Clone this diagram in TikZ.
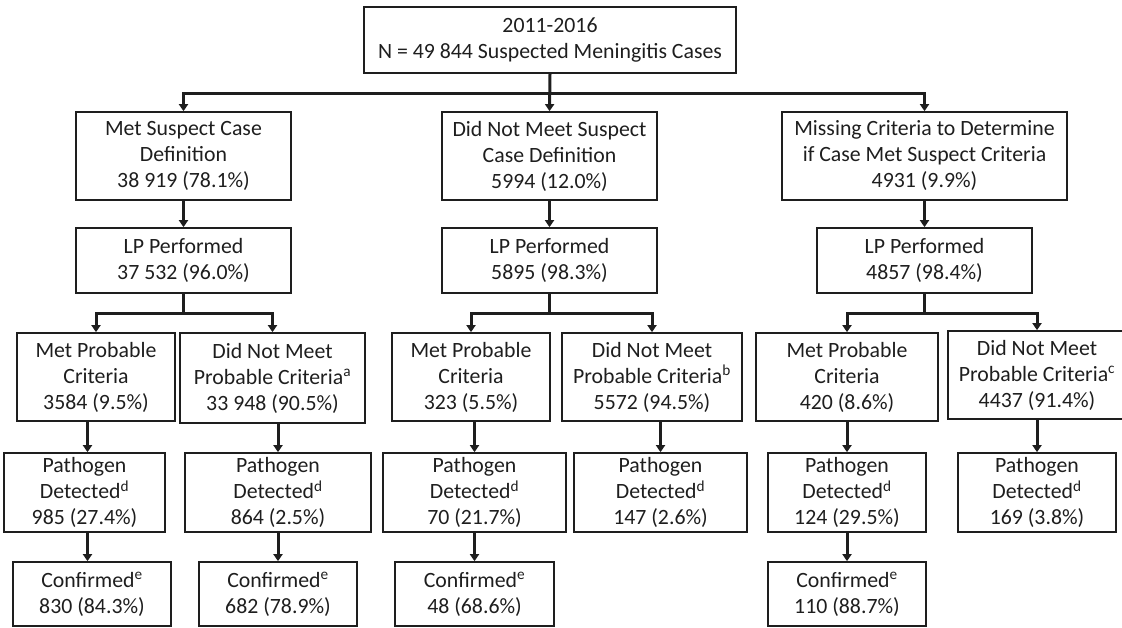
\documentclass[tikz,border=0pt]{standalone}
\usepackage{fontspec}
\setmainfont{Carlito}
\usetikzlibrary{arrows.meta}
\definecolor{ink}{HTML}{1E1E1E}
\tikzset{
  box/.style={draw=ink, line width=1.7pt, inner sep=0pt, align=center,
    font=\fontsize{21.8}{26}\selectfont, text=ink},
  conn/.style={draw=ink, line width=3pt, line join=miter,
    -{Triangle[length=7pt,width=9pt]}}
}
\begin{document}
\begin{tikzpicture}[x=1pt,y=1pt]
\useasboundingbox (0,0) rectangle (1122,-627);
% level 0
\node[box, minimum width=372pt, minimum height=66pt] (top) at (550,-40)
  {2011-2016\\N = 49 844 Suspected Meningitis Cases};
% level 1
\node[box, minimum width=215pt, minimum height=88pt] (A) at (183.5,-156)
  {Met Suspect Case\\Definition\\38 919 (78.1\%)};
\node[box, minimum width=215pt, minimum height=88pt] (B) at (549.5,-156)
  {Did Not Meet Suspect\\Case Definition\\5994 (12.0\%)};
\node[box, minimum width=285pt, minimum height=88pt] (C) at (924.5,-156)
  {Missing Criteria to Determine\\if Case Met Suspect Criteria\\4931 (9.9\%)};
% level 2
\node[box, minimum width=215pt, minimum height=65pt] (LPA) at (183.5,-260.5)
  {LP Performed\\37 532 (96.0\%)};
\node[box, minimum width=215pt, minimum height=65pt] (LPB) at (549.5,-260.5)
  {LP Performed\\5895 (98.3\%)};
\node[box, minimum width=215pt, minimum height=65pt] (LPC) at (924.5,-260.5)
  {LP Performed\\4857 (98.4\%)};
% level 3
\node[box, minimum width=158pt, minimum height=88pt] (A1) at (96,-377)
  {Met Probable\\Criteria\\3584 (9.5\%)};
\node[box, minimum width=185pt, minimum height=90pt] (A2) at (272.5,-378)
  {Did Not Meet\\Probable Criteria\textsuperscript{a}\\33 948 (90.5\%)};
\node[box, minimum width=158pt, minimum height=88pt] (B1) at (471,-377)
  {Met Probable\\Criteria\\323 (5.5\%)};
\node[box, minimum width=180pt, minimum height=88pt] (B2) at (652,-377)
  {Did Not Meet\\Probable Criteria\textsuperscript{b}\\5572 (94.5\%)};
\node[box, minimum width=182pt, minimum height=88pt] (C1) at (847,-377)
  {Met Probable\\Criteria\\420 (8.6\%)};
\node[box, minimum width=178pt, minimum height=88pt] (C2) at (1037,-375)
  {Did Not Meet\\Probable Criteria\textsuperscript{c}\\4437 (91.4\%)};
% level 4
\node[box, minimum width=161pt, minimum height=79pt] (A1p) at (84.5,-492.5)
  {Pathogen\\Detected\textsuperscript{d}\\985 (27.4\%)};
\node[box, minimum width=186pt, minimum height=79pt] (A2p) at (278,-492.5)
  {Pathogen\\Detected\textsuperscript{d}\\864 (2.5\%)};
\node[box, minimum width=183pt, minimum height=79pt] (B1p) at (474.5,-492.5)
  {Pathogen\\Detected\textsuperscript{d}\\70 (21.7\%)};
\node[box, minimum width=173pt, minimum height=79pt] (B2p) at (660.5,-492.5)
  {Pathogen\\Detected\textsuperscript{d}\\147 (2.6\%)};
\node[box, minimum width=158pt, minimum height=79pt] (C1p) at (847,-492.5)
  {Pathogen\\Detected\textsuperscript{d}\\124 (29.5\%)};
\node[box, minimum width=158pt, minimum height=79pt] (C2p) at (1037,-492.5)
  {Pathogen\\Detected\textsuperscript{d}\\169 (3.8\%)};
% level 5
\node[box, minimum width=158pt, minimum height=64pt] (A1c) at (92,-594)
  {Confirmed\textsuperscript{e}\\830 (84.3\%)};
\node[box, minimum width=158pt, minimum height=64pt] (A2c) at (278,-594)
  {Confirmed\textsuperscript{e}\\682 (78.9\%)};
\node[box, minimum width=159pt, minimum height=64pt] (B1c) at (474.5,-594)
  {Confirmed\textsuperscript{e}\\48 (68.6\%)};
\node[box, minimum width=158pt, minimum height=64pt] (C1c) at (847,-594)
  {Confirmed\textsuperscript{e}\\110 (88.7\%)};
% junctions
\coordinate (j0) at (550,-93);
\coordinate (jA) at (LPA.south |- 0,-313);
\coordinate (jB) at (LPB.south |- 0,-313);
\coordinate (jC) at (LPC.south |- 0,-313);
% connectors level 0 -> 1
\draw[conn] (top.south) -- (B.north);
\draw[conn] (j0) -| (A.north);
\draw[conn] (j0) -| (C.north);
% level 1 -> 2
\draw[conn] (A.south) -- (LPA.north);
\draw[conn] (B.south) -- (LPB.north);
\draw[conn] (C.south) -- (LPC.north);
% level 2 -> 3
\draw[conn] (LPA.south) -- (jA) -| (A1.north);
\draw[conn] (LPA.south) -- (jA) -| (A2.north);
\draw[conn] (LPB.south) -- (jB) -| (B1.north);
\draw[conn] (LPB.south) -- (jB) -| (B2.north);
\draw[conn] (LPC.south) -- (jC) -| (C1.north);
\draw[conn] (LPC.south) -- (jC) -| (C2.north);
% level 3 -> 4
\draw[conn] (A1.south -| 87.5,0) -- (A1p.north -| 87.5,0);
\draw[conn] (A2.south -| A2p.north) -- (A2p.north);
\draw[conn] (B1.south -| B1p.north) -- (B1p.north);
\draw[conn] (B2.south -| B2p.north) -- (B2p.north);
\draw[conn] (C1.south) -- (C1p.north);
\draw[conn] (C2.south) -- (C2p.north);
% level 4 -> 5
\draw[conn] (A1p.south -| 87.5,0) -- (A1c.north -| 87.5,0);
\draw[conn] (A2p.south) -- (A2c.north);
\draw[conn] (B1p.south) -- (B1c.north);
\draw[conn] (C1p.south) -- (C1c.north);
\end{tikzpicture}
\end{document}
